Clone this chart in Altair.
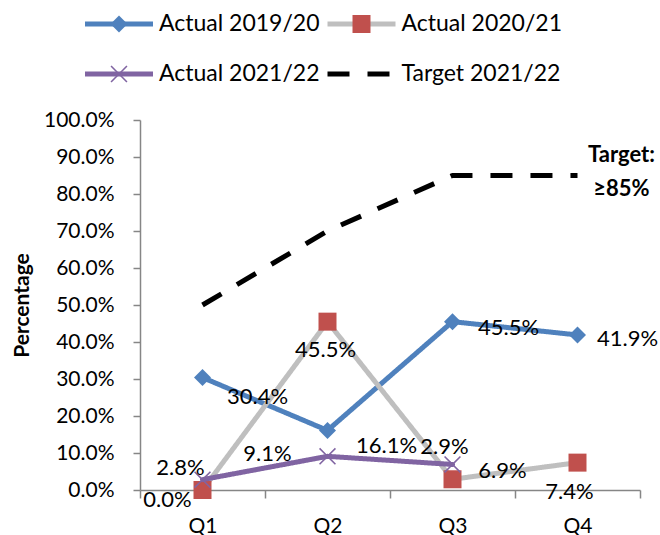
import altair as alt
import pandas as pd

# ---------------- data ----------------
QUARTERS = ["Q1", "Q2", "Q3", "Q4"]
SERIES = ["Actual 2019/20", "Actual 2020/21", "Actual 2021/22", "Target 2021/22"]
ACTUAL_2019_20 = [30.4, 16.1, 45.5, 41.9]
ACTUAL_2020_21 = [0.0, 45.5, 2.9, 7.4]
ACTUAL_2021_22 = [2.8, 9.1, 6.9, None]
TARGET_2021_22 = [50.0, 70.0, 85.0, 85.0]
TARGET_NOTE = ["Target:", "≥85%"]
Y_TICKS = [0, 10, 20, 30, 40, 50, 60, 70, 80, 90, 100]

rows = []
for s, vals in zip(SERIES, [ACTUAL_2019_20, ACTUAL_2020_21, ACTUAL_2021_22, TARGET_2021_22]):
    for q, v in zip(QUARTERS, vals):
        if v is not None:
            rows.append({"series": s, "quarter": q, "value": v})
df = pd.DataFrame(rows)

# ---------------- styles ----------------
FONT = "Lato"
LINE_COLORS = ["#4F81BD", "#BFBFBF", "#8064A2", "#000000"]
MARK_COLORS = ["#4F81BD", "#C0504D", "#8064A2", "transparent"]
DASHES = [[1, 0], [1, 0], [1, 0], [22, 18]]
SYM = 4624  # symbol size (sqrt = 68 px)


def poly(pts):
    return "M" + "L".join(f"{x:.4f},{y:.4f}" for x, y in pts) + "Z"


d = 8.5 / 34
sq = 9 / 34
a = 8.5 / 34
h = 1.1 / 34
DIAMOND = poly([(0, -d), (d, 0), (0, d), (-d, 0)])
SQUARE = poly([(-sq, -sq), (sq, -sq), (sq, sq), (-sq, sq)])
XMARK = poly([(-a, -a + h), (-a + h, -a), (0, -h), (a - h, -a), (a, -a + h), (h, 0),
              (a, a - h), (a - h, a), (0, h), (-a + h, a), (-a, a - h), (-h, 0)])
SHAPES = [DIAMOND, SQUARE, XMARK, "M0,0"]

# label offsets (dx, dy) in pixels relative to each point
LABEL_OFFSETS = {
    ("Actual 2019/20", "Q1"): (55, 19),
    ("Actual 2019/20", "Q2"): (59, 16),
    ("Actual 2019/20", "Q3"): (56, 6),
    ("Actual 2019/20", "Q4"): (50, 4),
    ("Actual 2020/21", "Q1"): (-35, 10),
    ("Actual 2020/21", "Q2"): (-2, 28),
    ("Actual 2020/21", "Q3"): (-8, -32),
    ("Actual 2020/21", "Q4"): (-8, 29),
    ("Actual 2021/22", "Q1"): (-22, -12),
    ("Actual 2021/22", "Q2"): (-60, -2),
    ("Actual 2021/22", "Q3"): (50, 7),
}

AXIS_GRAY = "#868686"

x_enc = alt.X(
    "quarter:N",
    scale=alt.Scale(type="band", domain=QUARTERS, paddingInner=0, paddingOuter=0),
    bandPosition=0.5,
    title=None,
    axis=alt.Axis(
        tickBand="extent", labelAngle=0, labelFont=FONT, labelFontSize=21,
        labelColor="black", domainColor=AXIS_GRAY, tickColor=AXIS_GRAY,
        domainWidth=1.5, tickWidth=1.5, tickSize=8, labelPadding=17, grid=False,
    ),
)
y_enc = alt.Y(
    "frac:Q",
    scale=alt.Scale(domain=[0, 1], nice=False, zero=True),
    title="Percentage",
    axis=alt.Axis(
        values=[t / 100 for t in Y_TICKS], format=".1%", labelFont=FONT, labelFontSize=21,
        labelColor="black", domainColor=AXIS_GRAY, tickColor=AXIS_GRAY,
        domainWidth=1.5, tickWidth=1.5, tickSize=7, labelPadding=19, grid=False,
        titleFont=FONT, titleFontSize=21, titleFontWeight="bold", titleColor="black",
        titlePadding=11,
    ),
)

legend_common = dict(
    orient="none", legendX=-57.5, legendY=-106, columns=2, direction="horizontal",
    title=None, padding=0,
    symbolSize=SYM, symbolStrokeWidth=5, labelFont=FONT, labelFontSize=23,
    labelOffset=3.5, columnPadding=5.5, rowPadding=27, clipHeight=20, labelLimit=0,
)
legA = alt.Legend(symbolType="stroke", labelColor="black", **legend_common)
legB = alt.Legend(labelColor="transparent", symbolStrokeColor="transparent", **legend_common)

MARK_KEYS = [s + " " for s in SERIES]  # marker-legend keys (labels hidden)
stroke_scale = alt.Scale(domain=SERIES, range=LINE_COLORS)
dash_scale = alt.Scale(domain=SERIES, range=DASHES)
fill_scale = alt.Scale(domain=MARK_KEYS, range=MARK_COLORS)
shape_scale = alt.Scale(domain=MARK_KEYS, range=SHAPES)

base = alt.Chart(df).transform_calculate(
    frac="datum.value / 100",
    label="format(datum.value, '.1f') + '%'",
    mk="datum.series + ' '",
)

layers = []
for i, s in enumerate(SERIES):
    sub = base.transform_filter(alt.datum.series == s)
    is_target = s.startswith("Target")
    line = sub.mark_line(
        strokeWidth=5,
        strokeCap="butt" if is_target else "round",
        strokeJoin="round",
    ).encode(
        x=x_enc, y=y_enc,
        stroke=alt.Stroke("series:N", scale=stroke_scale, legend=legA),
        strokeDash=alt.StrokeDash("series:N", scale=dash_scale, legend=legA),
    )
    layers.append(line)
    if not is_target:
        pts = sub.mark_point(filled=True, opacity=1, size=SYM).encode(
            x=x_enc, y=y_enc,
            fill=alt.Fill("mk:N", scale=fill_scale, legend=legB),
            shape=alt.Shape("mk:N", scale=shape_scale, legend=legB),
        )
        layers.append(pts)

for (s, q), (dx, dy) in LABEL_OFFSETS.items():
    txt = base.transform_filter(
        (alt.datum.series == s) & (alt.datum.quarter == q)
    ).mark_text(
        dx=dx, dy=dy, align="center", baseline="middle",
        font=FONT, fontSize=22, color="black",
    ).encode(x=x_enc, y=y_enc, text="label:N")
    layers.append(txt)

note = base.transform_filter(
    (alt.datum.series == SERIES[3]) & (alt.datum.quarter == QUARTERS[3])
).mark_text(
    dx=44, dy=-21, align="center", baseline="middle", font=FONT, fontSize=22,
    fontWeight="bold", color="black", lineHeight=34,
).encode(x=x_enc, y=y_enc, text=alt.value(TARGET_NOTE))
layers.append(note)

chart = alt.layer(*layers).properties(
    width=500, height=370,
    autosize=alt.AutoSizeParams(type="none"),
    padding={"left": 140, "top": 120, "right": 20, "bottom": 45},
    background="white",
).configure_view(stroke=None)

chart.save("out.html", embed_options={"renderer": "svg", "actions": False})
